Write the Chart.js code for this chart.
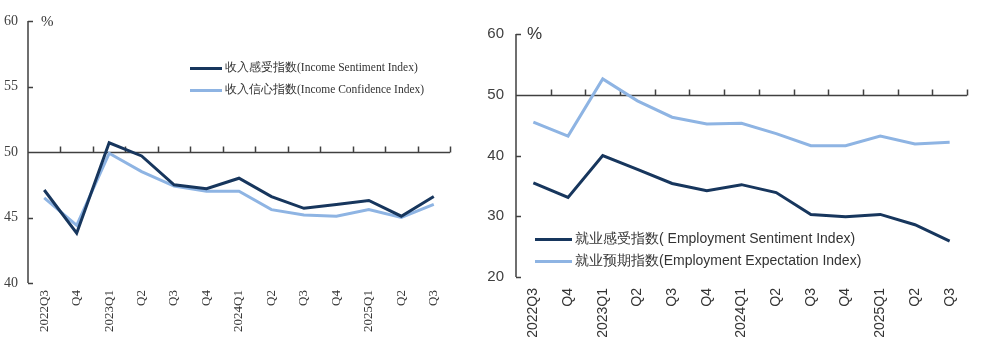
<!DOCTYPE html>
<html>
<head>
<meta charset="utf-8">
<script src="https://cdn.jsdelivr.net/npm/chart.js@4/dist/chart.umd.min.js"></script>
<style>
  body { margin: 0; background: #fff; width: 1000px; height: 352px; position: relative; overflow: hidden; }
  .box { position: absolute; top: 0; }
  .pct { position: absolute; color: #333; }
  .legend { position: absolute; }
  .legend div { position: relative; height: 22px; line-height: 22px; white-space: nowrap; color: #333; }
  .legend span.sw { display: inline-block; vertical-align: middle; height: 3px; margin-right: 3px; }
</style>
</head>
<body>
<div class="box" style="left:0;width:480px;height:352px"><canvas id="incomeChart" width="480" height="352"></canvas></div>
<div class="box" style="left:470px;width:530px;height:352px"><canvas id="jobChart" width="530" height="352"></canvas></div>
<div class="pct" style="left:41px;top:13px;font:15px 'Liberation Serif'">%</div>
<div class="pct" style="left:527px;top:24px;font:17px 'Liberation Sans'">%</div>
<div class="legend" id="incomeLegend" style="left:190px;top:56px;font:11.5px 'Liberation Serif'"></div>
<div class="legend" id="jobLegend" style="left:535px;top:227px;font:14px 'Liberation Sans'"></div>
<script>
const quarters = ['2022Q3', 'Q4', '2023Q1', 'Q2', 'Q3', 'Q4', '2024Q1', 'Q2', 'Q3', 'Q4', '2025Q1', 'Q2', 'Q3'];

// income
const incomeSentiment = [47.1, 43.8, 50.7, 49.7, 47.5, 47.2, 48.0, 46.6, 45.7, 46.0, 46.3, 45.1, 46.6];
const incomeConfidence = [46.5, 44.4, 49.9, 48.5, 47.4, 47.0, 47.0, 45.6, 45.2, 45.1, 45.6, 45.0, 46.0];
const incomeNames = ['收入感受指数(Income Sentiment Index)', '收入信心指数(Income Confidence Index)'];

// employment
const jobSentiment = [35.5, 33.1, 40.0, 37.7, 35.4, 34.2, 35.2, 33.9, 30.3, 29.9, 30.3, 28.6, 25.9];
const jobExpectation = [45.5, 43.2, 52.6, 49.0, 46.3, 45.2, 45.3, 43.6, 41.6, 41.6, 43.2, 41.9, 42.2];
const jobNames = ['就业感受指数( Employment Sentiment Index)', '就业预期指数(Employment Expectation Index)'];

const darkBlue = '#17365d';
const lightBlue = '#8eb4e3';
const axisColor = '#404040';

// axis line at value 50 with upward ticks, y axis with inward ticks
const axesPlugin = {
  id: 'axesPlugin',
  beforeDatasetsDraw(chart, args, opts) {
    const ctx = chart.ctx;
    const area = chart.chartArea;
    const x = chart.scales.x;
    const y = chart.scales.y;
    ctx.save();
    ctx.strokeStyle = axisColor;
    ctx.lineWidth = 1.5;
    ctx.beginPath();
    ctx.moveTo(area.left, area.top);
    ctx.lineTo(area.left, area.bottom);
    y.ticks.forEach(function (t) {
      const py = Math.round(y.getPixelForValue(t.value)) + 0.5;
      ctx.moveTo(area.left, py);
      ctx.lineTo(area.left + 5, py);
    });
    const base = Math.round(y.getPixelForValue(opts.base)) + 0.5;
    ctx.moveTo(area.left, base);
    ctx.lineTo(area.right, base);
    const step = (area.right - area.left) / quarters.length;
    for (let i = 1; i <= quarters.length; i++) {
      const px = Math.round(area.left + i * step) + 0.5;
      ctx.moveTo(px, base);
      ctx.lineTo(px, base - 6);
    }
    ctx.stroke();
    ctx.restore();
  }
};

function makeChart(id, a, b, cfg) {
  return new Chart(document.getElementById(id), {
    type: 'line',
    data: {
      labels: quarters,
      datasets: [
        { data: a, borderColor: darkBlue, borderWidth: 3, pointRadius: 0, tension: 0 },
        { data: b, borderColor: lightBlue, borderWidth: 3, pointRadius: 0, tension: 0 },
      ],
    },
    plugins: [axesPlugin],
    options: {
      responsive: false,
      animation: false,
      layout: { padding: { left: 0, right: cfg.right, top: cfg.top, bottom: 0 } },
      plugins: {
        legend: { display: false },
        tooltip: { enabled: false },
        axesPlugin: { base: 50 },
      },
      scales: {
        x: {
          offset: true,
          grid: { display: false, drawTicks: false },
          border: { display: false },
          ticks: {
            autoSkip: false, minRotation: 90, maxRotation: 90,
            padding: cfg.xPad, color: '#333',
            font: { family: cfg.font, size: cfg.xSize },
          },
          afterFit(s) { s.height = cfg.xHeight; },
        },
        y: {
          min: cfg.min, max: cfg.max,
          grid: { display: false, drawTicks: false },
          border: { display: false },
          ticks: {
            stepSize: cfg.step, padding: cfg.yPad, color: axisColor,
            font: { family: cfg.font, size: cfg.ySize },
          },
          afterFit(s) { s.width = cfg.yWidth; },
        },
      },
    },
  });
}

makeChart('incomeChart', incomeSentiment, incomeConfidence, {
  min: 40, max: 60, step: 5, font: 'Liberation Serif', xSize: 13, ySize: 14,
  right: 30, top: 21, xHeight: 69, yWidth: 28, xPad: 7, yPad: 10,
});
makeChart('jobChart', jobSentiment, jobExpectation, {
  min: 20, max: 60, step: 10, font: 'Liberation Sans', xSize: 14, ySize: 15,
  right: 33, top: 34, xHeight: 75, yWidth: 46, xPad: 11, yPad: 12,
});

function buildLegend(id, names, swatchWidth) {
  const el = document.getElementById(id);
  const colors = [darkBlue, lightBlue];
  names.forEach(function (n, i) {
    const row = document.createElement('div');
    row.innerHTML = '<span class="sw" style="width:' + swatchWidth + 'px;background:' + colors[i] + '"></span>' + n;
    el.appendChild(row);
  });
}
buildLegend('incomeLegend', incomeNames, 32);
buildLegend('jobLegend', jobNames, 37);
</script>
</body>
</html>
